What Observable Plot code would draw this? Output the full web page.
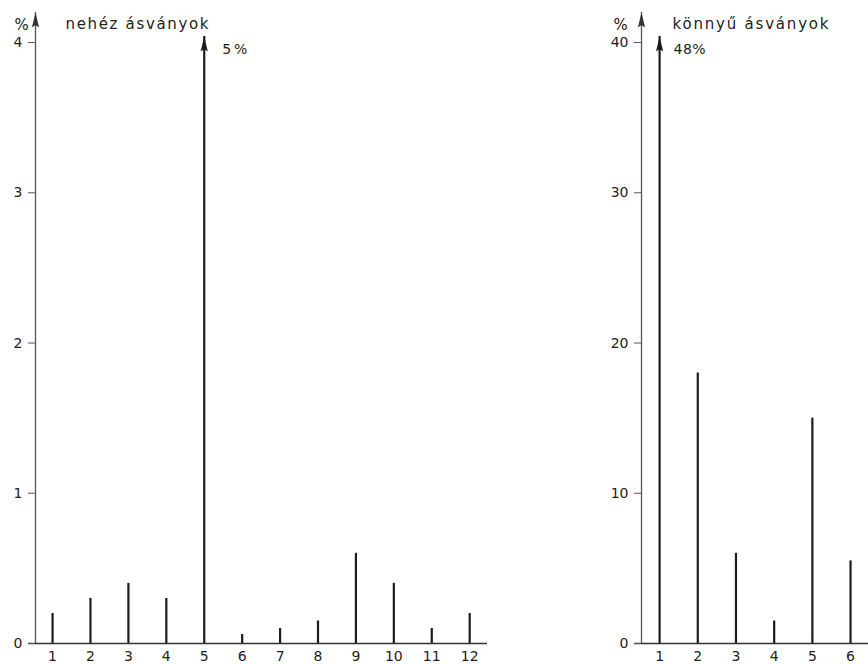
<!DOCTYPE html>
<html>
<head>
<meta charset="utf-8">
<script src="https://cdn.jsdelivr.net/npm/d3@7"></script>
<script src="https://cdn.jsdelivr.net/npm/@observablehq/plot@0.6"></script>
<style>
  html, body { margin: 0; padding: 0; background: #fff; overflow: hidden; }
  #wrap { position: relative; width: 868px; height: 664px; }
  #left, #right { position: absolute; top: 0; }
  #left { left: 0; }
  #right { left: 560px; }
  svg { overflow: visible; }
</style>
</head>
<body>
<div id="wrap"><div id="left"></div><div id="right"></div></div>
<script>
// Left panel: heavy minerals
const heavyTitle = "nehéz ásványok";
const heavyCats = [1, 2, 3, 4, 5, 6, 7, 8, 9, 10, 11, 12];
const heavyValues = [0.2, 0.3, 0.4, 0.3, 5, 0.06, 0.1, 0.15, 0.6, 0.4, 0.1, 0.2];
const heavyYTicks = [0, 1, 2, 3, 4];

// Right panel: light minerals
const lightTitle = "könnyű ásványok";
const lightCats = [1, 2, 3, 4, 5, 6];
const lightValues = [48, 18, 6, 1.5, 15, 5.5];
const lightYTicks = [0, 10, 20, 30, 40];

const ink = "#1c1c1c";

// narrow filled arrowhead, tip at the point
const arrowHead = {
  draw(ctx) {
    ctx.moveTo(0, 0);
    ctx.lineTo(3.6, 15);
    ctx.lineTo(0, 12.5);
    ctx.lineTo(-3.6, 15);
    ctx.closePath();
  }
};

function panel({cats, values, yTicks, yTop, cap, title, titleWidth, overWidth, xDomain, width, marginLeft, labelDx, pctDx, titleDx}) {
  const data = cats.map((c, i) => ({cat: c, value: values[i]}));
  const under = data.filter(d => d.value <= cap);
  const over = data.filter(d => d.value > cap);
  const svg = Plot.plot({
    width,
    height: 664,
    marginLeft,
    marginRight: 0,
    marginTop: 12,
    marginBottom: 21,
    x: {type: "linear", domain: xDomain, axis: null, label: null},
    y: {domain: [0, yTop], axis: null, label: null},
    style: {fontFamily: "'DejaVu Sans', sans-serif", fontSize: "14px", color: "#222", background: "white", overflow: "visible"},
    marks: [
      Plot.ruleY([0], {stroke: "#333", strokeWidth: 1.3, insetLeft: -7}),
      Plot.ruleX([xDomain[0]], {stroke: "#555", strokeWidth: 1.3}),
      Plot.dot([yTop], {x: () => xDomain[0], y: d => d, symbol: arrowHead, fill: "#333", stroke: "none"}),
      Plot.axisY({ticks: yTicks, tickSize: 7, tickPadding: 6, stroke: "#555", fill: "#222", label: null, tickFormat: d => String(d)}),
      Plot.axisX({ticks: cats, tickSize: 0, tickPadding: 8, label: null, tickFormat: d => String(d), fill: "#222"}),
      Plot.ruleX(under, {x: "cat", y1: 0, y2: "value", stroke: ink, strokeWidth: 2.2}),
      Plot.ruleX(over, {x: "cat", y1: 0, y2: () => cap, stroke: ink, strokeWidth: 2.2}),
      Plot.dot(over, {x: "cat", y: () => cap, symbol: arrowHead, fill: ink, stroke: "none"}),
      Plot.text(over, {x: "cat", y: () => cap, text: d => d.value + "%", textAnchor: "start", dx: labelDx, dy: 13, fill: "#222"}),
      Plot.text(["%"], {frameAnchor: "top-left", text: d => d, dx: pctDx, dy: 7, fill: "#222", fontSize: 15}),
      Plot.text([title], {frameAnchor: "top-left", text: d => d, textAnchor: "start", dx: titleDx, dy: 6, fill: "#222", fontSize: 15})
    ]
  });
  const overTexts = over.map(d => d.value + "%");
  d3.select(svg).selectAll("text").each(function() {
    const t = this.textContent;
    if (t === title) {
      this.setAttribute("textLength", titleWidth);
      this.setAttribute("lengthAdjust", "spacing");
    } else if (overTexts.includes(t)) {
      this.setAttribute("textLength", overWidth);
      this.setAttribute("lengthAdjust", "spacing");
    }
  });
  return svg;
}

document.getElementById("left").append(panel({
  cats: heavyCats, values: heavyValues, yTicks: heavyYTicks,
  yTop: 4.2, cap: 4.04, title: heavyTitle, titleWidth: 143, overWidth: 25,
  xDomain: [0.55, 12.47], width: 487, marginLeft: 35,
  labelDx: 18, pctDx: -21, titleDx: 30
}));

document.getElementById("right").append(panel({
  cats: lightCats, values: lightValues, yTicks: lightYTicks,
  yTop: 42, cap: 40.4, title: lightTitle, titleWidth: 156, overWidth: 32,
  xDomain: [0.526, 6.47], width: 308, marginLeft: 81,
  labelDx: 14, pctDx: -28, titleDx: 31
}));
</script>
</body>
</html>
